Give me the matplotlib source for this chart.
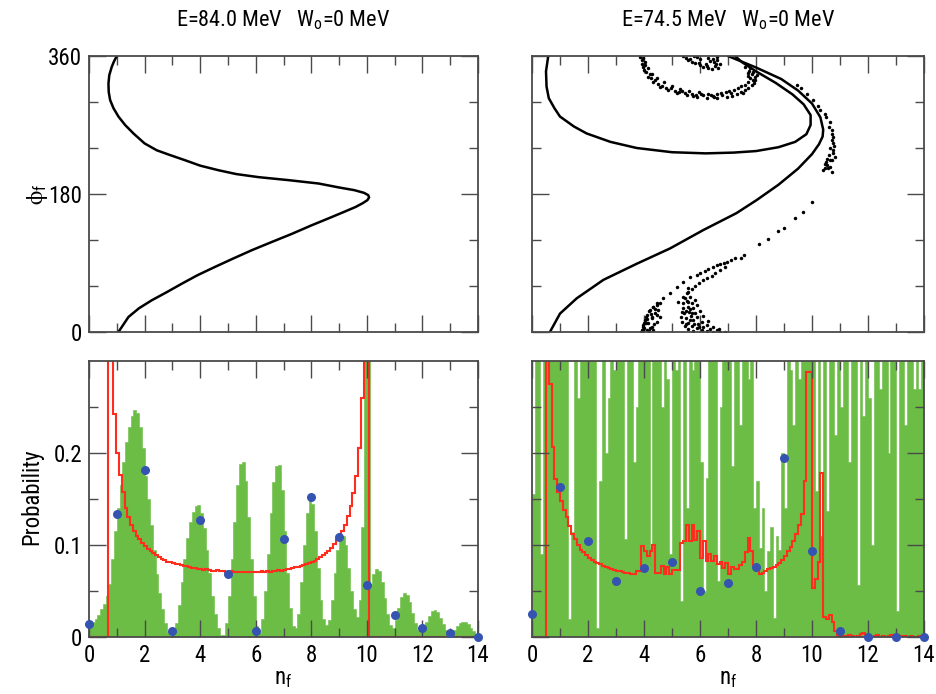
import numpy as np
import matplotlib
matplotlib.use('Agg')
import matplotlib.pyplot as plt
import matplotlib.font_manager as fm
from matplotlib.ticker import FixedLocator, MultipleLocator, FuncFormatter

# pick a narrow sans font if one is installed
def _is_regular(f):
    return f.style == 'normal' and f.weight in (400, 'normal', 'regular', 'book')

narrow_name, narrow_stretch = None, 'normal'
prefs = ['Liberation Sans Narrow', 'Arial Narrow', 'Roboto Condensed', 'Open Sans Condensed',
         'Noto Sans', 'Open Sans', 'Roboto', 'DejaVu Sans', 'Liberation Sans', 'Lato', 'Inter']
for want in prefs:
    for f in fm.fontManager.ttflist:
        if f.name == want and _is_regular(f) and (
                'Narrow' in f.name or 'Condensed' in f.name or
                f.stretch in ('condensed', 'semi-condensed', 'extra-condensed', 600, 500)):
            narrow_name, narrow_stretch = f.name, f.stretch
            break
    if narrow_name:
        break
if narrow_name is None:
    narrow_name = 'Liberation Sans'
    narrow_stretch = 'normal'

plt.rcParams['font.family'] = [narrow_name, 'DejaVu Sans']
plt.rcParams['font.stretch'] = narrow_stretch
plt.rcParams['mathtext.fontset'] = 'custom'
_pat = narrow_name + (':stretch=%s' % narrow_stretch if narrow_stretch != 'normal' else '')
plt.rcParams['mathtext.rm'] = _pat
plt.rcParams['mathtext.it'] = _pat

# ---------------- data ----------------
titles = ['E=84.0 MeV   $\\mathregular{W_o}$=0 MeV', 'E=74.5 MeV   $\\mathregular{W_o}$=0 MeV']

# top-left classical curve (n_f, phi_f)
tl_n = [1.06, 1.42, 1.8, 2.26, 2.8, 3.34, 3.9, 4.54, 5.2, 5.86, 6.55, 7.3, 8.0, 8.74, 9.2, 9.59, 9.85,
        10.02, 10.08, 10.05, 9.9, 9.55, 9.0, 8.26, 7.2, 6.1, 5.3, 4.66, 4.0, 3.46, 2.9, 2.44, 2.0,
        1.6, 1.3, 1.06, 0.88, 0.76, 0.71, 0.7, 0.73, 0.82, 0.9, 1.0]
tl_phi = [0, 19.6, 31, 41.4, 52, 63, 74, 85, 96, 106.7, 117, 128, 139, 150, 157, 163, 168,
          172, 175.5, 178.5, 181.5, 185, 188.5, 193.7, 198, 202, 206, 211, 217, 224, 231, 237, 246,
          259, 270, 281, 292, 302.6, 313, 324, 335, 346, 353, 360]

# top-right curves
tr1_n = [0.64, 1.0, 1.6, 2.55, 3.74, 4.93, 6.12, 7.3, 8.02, 8.8, 9.5, 10.0, 10.25, 10.38, 10.4,
         10.3, 10.0, 9.5, 8.9, 8.0, 7.0]
tr1_phi = [0, 24, 44, 68, 89, 109, 133, 155, 172, 192, 213, 232, 245, 255, 264,
           280, 298, 315, 330, 345, 360]
tr2_n = [0.58, 0.5, 0.52, 0.6, 0.8, 1.0, 1.5, 1.95, 2.8, 3.74, 5.0, 6.2, 7.2, 8.0, 8.8, 9.4,
         9.8, 9.95, 9.95, 9.7, 9.3, 8.7, 8.0, 7.5, 7.25]
tr2_phi = [360, 340, 320, 305, 292, 281, 268, 259, 248, 240, 234.5, 233, 234, 236, 241, 248,
           258, 270, 283, 297, 310, 325, 340, 352, 360]

# top-right scattered trajectories (n_f, phi_f)
dots_spiral = [(3.86, 359), (3.92, 350), (4.0, 342), (4.15, 333), (4.33, 326.5), (4.57, 320), (4.87, 315.7),
               (5.17, 311.3), (5.52, 309), (5.88, 306), (6.24, 304.6), (6.6, 304.6), (6.95, 307), (7.31, 310),
               (7.61, 315.7), (7.85, 322), (7.96, 328.7), (8.02, 335), (7.9, 339.6), (7.79, 344),
               (3.98, 358), (4.05, 352), (4.13, 345), (4.27, 337), (4.45, 331), (4.7, 325.5), (5.0, 321),
               (5.3, 317), (5.6, 315), (5.95, 312.5), (6.3, 311), (6.62, 311), (6.92, 313), (7.22, 316),
               (7.48, 320.5), (7.7, 325.5), (7.8, 331), (7.85, 336), (7.75, 341), (7.6, 346),
               (3.92, 355), (4.08, 339), (4.38, 329), (4.78, 318), (5.1, 314), (5.45, 312), (5.75, 308),
               (6.1, 308.5), (6.45, 307.5), (6.8, 309.5), (7.1, 311.5), (7.45, 313), (7.7, 318.5),
               (7.92, 325), (7.98, 332),
               (3.95, 346), (4.2, 336), (4.5, 323), (4.95, 318), (5.35, 314), (5.7, 311), (6.05, 310),
               (6.4, 309.5), (6.75, 312), (7.05, 314.5), (7.35, 318), (7.6, 322.5), (7.72, 334),
               (4.02, 348), (4.25, 331), (4.65, 321.5), (5.25, 313), (5.85, 309.5), (6.5, 306),
               (7.15, 308), (7.55, 312), (7.88, 329), (7.7, 338)]
dots_inner = [(5.4, 360), (5.58, 354.8), (5.82, 350.4), (6.12, 346), (6.42, 342.6), (6.65, 344), (6.71, 349.6),
              (6.6, 354.8), (6.3, 358), (5.7, 352), (6.0, 348.5), (6.3, 345), (6.55, 347), (6.5, 352),
              (6.0, 356), (5.5, 357), (6.2, 350), (6.45, 356.5), (5.9, 358.5), (6.6, 359),
              (5.65, 356), (5.95, 351), (6.25, 347.5), (6.58, 350), (6.35, 353), (5.8, 359.5)]
dots_right = [(9.81, 311), (10.05, 302.6), (10.29, 289.6), (10.46, 285), (10.64, 274), (10.7, 263.5),
              (10.76, 254.7), (10.7, 250.4), (10.76, 246), (10.76, 237.4), (10.82, 228.7), (10.7, 224.3),
              (10.64, 215.6), (10.58, 213.5), (10.52, 218), (10.4, 211), (10.7, 209), (10.76, 233),
              (10.64, 224), (10.46, 219.5), (10.55, 226), (10.65, 240), (9.6, 318), (9.45, 322),
              (10.2, 295), (10.5, 280), (10.6, 268), (10.72, 258), (10.8, 242), (10.6, 231),
              (10.5, 222), (10.45, 214)]
dots_diag = [(9.99, 169.1), (9.67, 157), (9.4, 148.3), (9.0, 136.1), (8.8, 132.2), (8.44, 121.3),
             (8.12, 114.4), (7.57, 100.4), (7.25, 96.1), (6.98, 91.7), (6.71, 88.7), (6.48, 84.4),
             (6.18, 80), (5.88, 74.4), (5.64, 71.3), (5.4, 65.7), (5.17, 59.1), (4.93, 50.4),
             (4.69, 43.9), (4.48, 37.4), (4.33, 33), (4.19, 27.8), (4.07, 20), (4.0, 11.3), (3.95, 2.6),
             (7.45, 97), (7.1, 94), (6.85, 90), (6.6, 87), (6.3, 82), (6.0, 77),
             (6.71, 80.9), (6.42, 73), (6.12, 67.8), (5.82, 60), (5.58, 52.6), (5.4, 46), (5.23, 39.5),
             (6.9, 85), (6.55, 77), (6.25, 71), (5.95, 64), (5.7, 56)]
dots_bottom = [(3.92, 2.6), (3.98, 9.1), (4.04, 15.7), (4.1, 22.2), (4.21, 28.7), (4.33, 33), (4.45, 35.2),
               (4.57, 37.4), (4.0, 4.8), (4.15, 11.3), (4.27, 17.8), (4.39, 24.3), (4.51, 28.7), (4.1, 2.6),
               (4.27, 7), (4.45, 13.5), (4.33, 2.6), (4.57, 20), (3.88, 0.4), (4.19, 1.7), (4.07, 12.2),
               (4.24, 23.5), (4.39, 29.6),
               (5.58, 57), (5.52, 50.4), (5.46, 43.9), (5.4, 37.4), (5.38, 30.9), (5.43, 24.3), (5.5, 17.8),
               (5.58, 12.2), (5.7, 7.8), (5.88, 4.8), (6.06, 2.6), (6.24, 1.3), (6.48, 0.4), (6.71, 0.3),
               (6.89, 0.2), (5.64, 46.1), (5.58, 39.6), (5.56, 33), (5.61, 26.5), (5.67, 20.9), (5.76, 15.7),
               (5.94, 10.4), (6.12, 7), (6.36, 4.3), (6.6, 2.2), (5.7, 37.4), (5.76, 30.9), (5.82, 25.2),
               (5.9, 19.1), (6.06, 13.5), (6.24, 9.1), (6.45, 6.1), (6.69, 3.5), (5.35, 26.5), (5.31, 20),
               (5.37, 13.5), (5.46, 7.8), (5.58, 3.5), (5.76, 0.9), (5.82, 41.7), (5.88, 35.2), (6.0, 27.8),
               (6.12, 20.9), (6.3, 14.8),
               (5.5, 28), (5.52, 40), (5.65, 30), (5.72, 25), (5.5, 10), (5.64, 16), (5.8, 11), (5.98, 6),
               (4.12, 17), (4.3, 20), (4.36, 10), (4.2, 5), (4.48, 22), (3.96, 6)]

# bottom-left histograms
green_left = [0.014, 0.016, 0.020, 0.024, 0.030, 0.036, 0.045, 0.058, 0.085, 0.115,
              0.140, 0.165, 0.190, 0.212, 0.228, 0.240, 0.247, 0.243, 0.228, 0.205,
              0.175, 0.150, 0.122, 0.095, 0.068, 0.048, 0.030, 0.015, 0.005, 0.001,
              0.004, 0.015, 0.035, 0.060, 0.085, 0.108, 0.125, 0.136, 0.142, 0.143,
              0.135, 0.118, 0.095, 0.070, 0.045, 0.025, 0.010, 0.002, 0.002, 0.015,
              0.045, 0.085, 0.125, 0.165, 0.188, 0.190, 0.170, 0.130, 0.085, 0.045,
              0.012, 0.004, 0.020, 0.050, 0.090, 0.135, 0.168, 0.186, 0.187, 0.160,
              0.115, 0.070, 0.032, 0.012, 0.010, 0.025, 0.060, 0.100, 0.135, 0.150,
              0.145, 0.115, 0.075, 0.040, 0.020, 0.013, 0.018, 0.040, 0.070, 0.095,
              0.108, 0.110, 0.100, 0.075, 0.050, 0.030, 0.022, 0.040, 0.120, 0.400,
              0.400, 0.058, 0.068, 0.074, 0.072, 0.060, 0.042, 0.025, 0.013, 0.010,
              0.018, 0.032, 0.043, 0.048, 0.046, 0.038, 0.026, 0.015, 0.008, 0.005,
              0.008, 0.016, 0.023, 0.028, 0.029, 0.027, 0.021, 0.014, 0.008, 0.004,
              0.004, 0.008, 0.012, 0.015, 0.016, 0.016, 0.014, 0.010, 0.006, 0.002]
red_left_start = 0.68
red_left = [0.6, 0.6, 0.242, 0.200, 0.176, 0.158, 0.140, 0.130, 0.122, 0.115,
            0.110, 0.106, 0.102, 0.099, 0.096, 0.093, 0.091, 0.089, 0.087, 0.085,
            0.084, 0.082, 0.081, 0.080, 0.079, 0.079, 0.078, 0.077, 0.077, 0.076,
            0.075, 0.075, 0.074, 0.074, 0.073, 0.074, 0.073, 0.072, 0.072, 0.073,
            0.072, 0.072, 0.071, 0.071, 0.072, 0.071, 0.071, 0.071, 0.071, 0.071,
            0.071, 0.071, 0.071, 0.071, 0.071, 0.072, 0.071, 0.072, 0.071, 0.072,
            0.072, 0.073, 0.072, 0.073, 0.074, 0.074, 0.075, 0.076, 0.076, 0.077,
            0.078, 0.079, 0.080, 0.082, 0.083, 0.085, 0.087, 0.089, 0.091, 0.094,
            0.097, 0.101, 0.105, 0.109, 0.115, 0.122, 0.131, 0.142, 0.156, 0.175,
            0.205, 0.260, 0.6, 0.6]
dots_left = [0.014, 0.134, 0.182, 0.006, 0.127, 0.068, 0.0065, 0.106, 0.152, 0.109, 0.056, 0.024, 0.0095, 0.004, 0.0]

# bottom-right histograms
H = 0.35
green_right = [0.155, H, H, 0.09, H, H, H, H, H, H,
               H, H, H, 0.02, 0.114, H, 0.26, H, H, H,
               H, H, H, 0.01, 0.17, H, 0.2, 0.26, H, 0.29,
               H, H, H, 0.106, H, H, 0.19, 0.25, H, H,
               H, H, 0.097, H, H, H, 0.25, H, 0.28, 0.09,
               H, 0.29, H, 0.039, H, 0.14, H, 0.29, H, H,
               0.19, 0.05, 0.173, H, H, H, 0.061, 0.25, H, H,
               H, 0.186, H, H, 0.23, H, H, 0.28, H, 0.14,
               0.17, 0.097, 0.14, 0.05, 0.093, 0.12, 0.021, 0.11, 0.095, 0.2,
               0.14, H, 0.29, 0.23, H, 0.28, H, H, H, H,
               H, 0.159, H, 0.11, H, 0.137, H, H, 0.22, H,
               0.25, H, H, 0.19, H, H, 0.057, H, 0.24, H,
               0.26, 0.1, H, H, 0.27, H, H, 0.2, H, H,
               0.028, H, H, 0.23, H, H, 0.27, H, 0.27, H]
red_right_start = 0.5
red_right = [0.6, 0.275, 0.206, 0.172, 0.158, 0.148, 0.138, 0.130, 0.121, 0.112,
             0.106, 0.100, 0.095, 0.092, 0.089, 0.086, 0.084, 0.082, 0.080, 0.079,
             0.077, 0.076, 0.075, 0.074, 0.073, 0.072, 0.072, 0.071, 0.070, 0.070,
             0.069, 0.068, 0.072, 0.072, 0.099, 0.093, 0.088, 0.093, 0.100, 0.070,
             0.070, 0.077, 0.068, 0.076, 0.068, 0.073, 0.073, 0.073, 0.102, 0.104,
             0.122, 0.104, 0.122, 0.105, 0.115, 0.086, 0.104, 0.083, 0.090, 0.083,
             0.088, 0.079, 0.082, 0.075, 0.080, 0.069, 0.076, 0.074, 0.074, 0.078,
             0.082, 0.092, 0.108, 0.094, 0.076, 0.072, 0.068, 0.070, 0.072, 0.074,
             0.075, 0.076, 0.078, 0.080, 0.084, 0.088, 0.093, 0.098, 0.104, 0.112,
             0.122, 0.134, 0.170, 0.288, 0.288, 0.053, 0.063, 0.082, 0.178, 0.022,
             0.020, 0.024, 0.016, 0.007, 0.001, 0.002, 0.001, 0.0, 0.002, 0.001,
             0.0, 0.001, 0.003, 0.004, 0.002, 0.001, 0.0, 0.001, 0.002, 0.0,
             0.001, 0.0, 0.001, 0.002, 0.001, 0.0, 0.001, 0.0, 0.001, 0.0,
             0.001, 0.0, 0.0, 0.001, 0.0]
dots_right_p = [0.025, 0.163, 0.104, 0.061, 0.075, 0.082, 0.05, 0.059, 0.076, 0.195, 0.094, 0.007, 0.0, 0.0, 0.0]
n_int = list(range(15))

# ---------------- styling ----------------
GREEN = '#6bbd45'
RED = '#ff2d1e'
BLUE = '#3553b0'
FRAME = '#4a4a4a'
FS = 16 if narrow_stretch != 'normal' else 14.5

fig = plt.figure(figsize=(9.36, 6.94), dpi=100)
W, Hh = 936, 694


def add_ax(x0, y0, x1, y1):
    return fig.add_axes([x0 / W, 1 - y1 / Hh, (x1 - x0) / W, (y1 - y0) / Hh])


ax_tl = add_ax(89, 56, 478, 332)
ax_tr = add_ax(532, 56, 924, 332)
ax_bl = add_ax(89, 361, 478, 637)
ax_br = add_ax(532, 361, 924, 637)


def style(ax, top):
    ax.set_xlim(0, 14)
    ax.xaxis.set_major_locator(MultipleLocator(2))
    ax.xaxis.set_minor_locator(MultipleLocator(1))
    if top:
        ax.set_ylim(0, 360)
        ax.yaxis.set_major_locator(FixedLocator([0, 180, 360]))
        ax.yaxis.set_minor_locator(FixedLocator([60, 120, 240, 300]))
    else:
        ax.set_ylim(0, 0.3)
        ax.yaxis.set_major_locator(FixedLocator([0, 0.1, 0.2]))
        ax.yaxis.set_minor_locator(FixedLocator([0.05, 0.15, 0.25]))
        ax.yaxis.set_major_formatter(FuncFormatter(lambda v, p: '0' if abs(v) < 1e-9 else f'{v:.1f}'))
    ax.tick_params(which='both', direction='in', top=True, right=True, colors=FRAME,
                   labelcolor='black', labelsize=FS + 0.5, width=1.0, pad=5)
    ax.tick_params(which='major', length=12)
    ax.tick_params(which='minor', length=6.5)
    for s in ax.spines.values():
        s.set_color(FRAME)
        s.set_linewidth(1.3)
        s.set_zorder(6)


for ax, top in [(ax_tl, True), (ax_tr, True), (ax_bl, False), (ax_br, False)]:
    style(ax, top)
ax_tl.tick_params(labelbottom=False)
ax_tr.tick_params(labelbottom=False, labelleft=False)
ax_br.tick_params(labelleft=False)

# top-left
ax_tl.plot(tl_n, tl_phi, color='black', lw=1.8, solid_capstyle='round')

# top-right
ax_tr.plot(tr1_n, tr1_phi, color='black', lw=1.8)
ax_tr.plot(tr2_n, tr2_phi, color='black', lw=1.8)
for grp in [dots_spiral, dots_inner, dots_right, dots_diag, dots_bottom]:
    xs = [p[0] for p in grp]
    ys = [p[1] for p in grp]
    ax_tr.plot(xs, ys, 'o', color='black', ms=2.5, mew=0)

# bottom-left
nbins = len(green_left)
edges = np.linspace(0, 14, nbins + 1)
ax_bl.stairs(green_left, edges, fill=True, facecolor=GREEN, edgecolor=GREEN, lw=0.4)
re = red_left_start + 0.1 * np.arange(len(red_left) + 1)
ax_bl.stairs([0] + red_left + [0], np.concatenate([[0], re, [14]]), color=RED, lw=1.5, baseline=None)
ax_bl.plot(n_int, dots_left, 'o', color=BLUE, ms=6.5, mew=0, clip_on=False, zorder=7)

# bottom-right
ax_br.stairs(green_right, edges, fill=True, facecolor=GREEN, edgecolor=GREEN, lw=0.4)
rr = red_right_start + 0.1 * np.arange(len(red_right) + 1)
ax_br.stairs([0] + red_right, np.concatenate([[0], rr]), color=RED, lw=1.5, baseline=None)
ax_br.plot(n_int, dots_right_p, 'o', color=BLUE, ms=6.5, mew=0, clip_on=False, zorder=7)

# text
fig.text(283.5 / W, 1 - 20 / Hh, titles[0], ha='center', va='center', fontsize=FS)
fig.text(728 / W, 1 - 20 / Hh, titles[1], ha='center', va='center', fontsize=FS)
fig.text(37 / W, 1 - 194 / Hh, '$\\mathregular{\u03d5_f}$', ha='center', va='center', rotation=90, fontsize=FS + 0.5)
fig.text(32 / W, 1 - 497 / Hh, 'Probability', ha='center', va='center', rotation=90, fontsize=FS + 0.5)
fig.text(283.5 / W, 1 - 678 / Hh, '$\\mathregular{n_f}$', ha='center', va='center', fontsize=FS + 0.5)
fig.text(728 / W, 1 - 678 / Hh, '$\\mathregular{n_f}$', ha='center', va='center', fontsize=FS + 0.5)

fig.savefig('out.png', dpi=100)
